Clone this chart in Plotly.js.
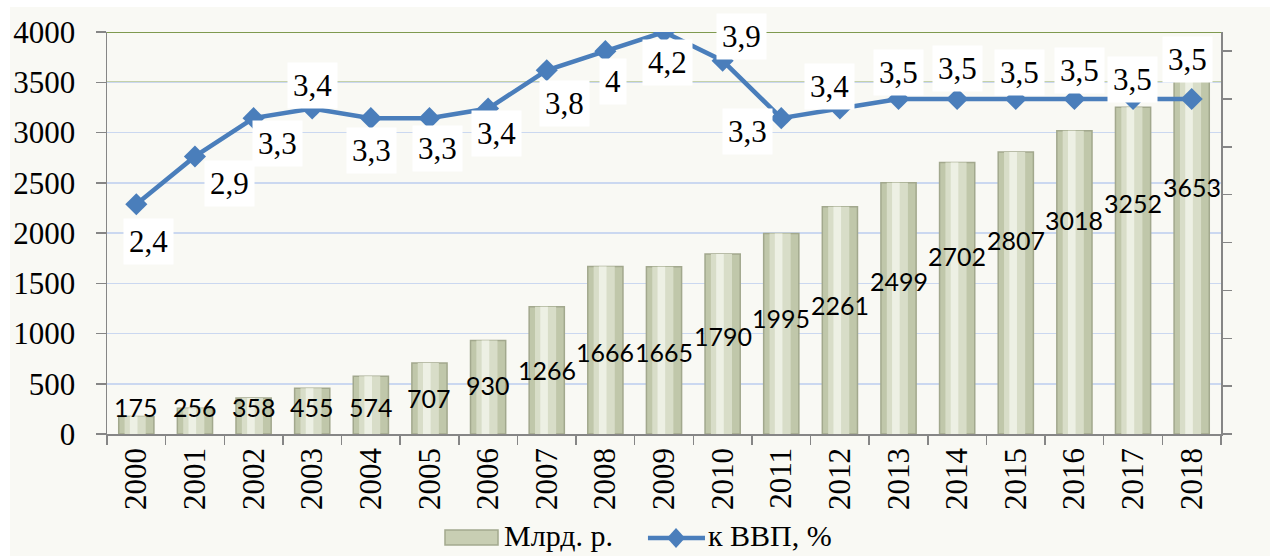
<!DOCTYPE html>
<html>
<head>
<meta charset="utf-8">
<script src="https://cdn.plot.ly/plotly-3.0.1.min.js"></script>
<style>html,body{margin:0;padding:0;background:#fff}#chart{width:1270px;height:556px}</style>
</head>
<body>
<div id="chart"></div>
<script>
// ---- data ----
const years = ['2000','2001','2002','2003','2004','2005','2006','2007','2008','2009','2010','2011','2012','2013','2014','2015','2016','2017','2018'];
const billionRub = [175,256,358,455,574,707,930,1266,1666,1665,1790,1995,2261,2499,2702,2807,3018,3252,3510];
const billionRubLabels = ['175','256','358','455','574','707','930','1266','1666','1665','1790','1995','2261','2499','2702','2807','3018','3252','3653'];
const gdpShare = [2.4,2.9,3.3,3.4,3.3,3.3,3.4,3.8,4,4.2,3.9,3.3,3.4,3.5,3.5,3.5,3.5,3.5,3.5];
const leftTicks = [0,500,1000,1500,2000,2500,3000,3500,4000];
const seriesNames = ['Млрд. р.', 'к ВВП, %'];

// ---- label placement (layout only) ----
const barLabelY = [269,269,269,269,269,358,488,637,816,816,975,1154,1284,1522,1771,1930,2129,2299,2458];
const lineLabelShift = [[12,-37],[35,-27],[24,-25],[0,23],[1,-32],[8,-30],[8,-25],[18,-33],[8,-30],[3,-30],[19,24],[-34,-13],[-10,22],[0,27],[0,31],[4,27],[5,29],[-1,20],[-4,40]];

const serif = "'Liberation Serif', 'Times New Roman', serif";
const sans = "Lato, 'Open Sans', sans-serif";
const blue = '#4a7ebb';

const traces = [
  {type:'bar', x:years, y:billionRub, name:seriesNames[0], width:0.6, showlegend:false,
   marker:{color:'#c0c7aa', line:{color:'#a2a88d', width:1.5}}, hoverinfo:'skip'},
  {type:'bar', x:years, y:billionRub, showlegend:false, width:0.36, offset:-0.2,
   marker:{color:'#d8ddc8', line:{width:0}}, hoverinfo:'skip'},
  {type:'bar', x:years, y:billionRub, showlegend:false, width:0.13, offset:-0.11,
   marker:{color:'#edf0e4', line:{width:0}}, hoverinfo:'skip'},
  {type:'scatter', mode:'lines+markers', x:years, y:gdpShare, yaxis:'y2', name:seriesNames[1], showlegend:false,
   line:{color:blue, width:4.5}, marker:{symbol:'diamond', size:17, color:blue}, hoverinfo:'skip'}
];

const annotations = [];
years.forEach((yr,i)=>{
  annotations.push({x:i, y:barLabelY[i], xref:'x', yref:'y', text:billionRubLabels[i], showarrow:false,
    font:{family:sans, size:25, color:'#000'}, yanchor:'middle', xanchor:'center'});
});
years.forEach((yr,i)=>{
  annotations.push({x:i, y:gdpShare[i], xref:'x', yref:'y2', text:String(gdpShare[i]).replace('.',','), showarrow:false,
    xshift:lineLabelShift[i][0], yshift:lineLabelShift[i][1], bgcolor:'#ffffff', borderpad:5,
    font:{family:serif, size:31, color:'#000'}, yanchor:'middle', xanchor:'center'});
});
// legend texts
annotations.push({xref:'paper', yref:'paper', x:0.3555, y:-0.2537, xanchor:'left', yanchor:'middle', showarrow:false,
  text:seriesNames[0], font:{family:serif, size:30, color:'#000'}, borderpad:0});
annotations.push({xref:'paper', yref:'paper', x:0.5385, y:-0.2537, xanchor:'left', yanchor:'middle', showarrow:false,
  text:seriesNames[1], font:{family:serif, size:30, color:'#000'}, borderpad:0});

const shapes = [
  {type:'rect', xref:'paper', yref:'paper', x0:-0.0871, x1:1.05, y0:-0.32, y1:1.0622, fillcolor:'#f9f9f4', line:{width:0}, layer:'below'},
  {type:'line', xref:'paper', yref:'y', x0:0, x1:1, y0:3500, y1:3500, line:{color:'#8fa95f', width:1.5}, layer:'between'},
  {type:'line', xref:'paper', yref:'y', x0:0, x1:1, y0:4000, y1:4000, line:{color:'#7f9a4f', width:2}, layer:'between'},
  // legend symbols
  {type:'rect', xref:'paper', yref:'paper', x0:0.3034, x1:0.351, y0:-0.2761, y1:-0.2388, fillcolor:'#c8ceb3', line:{color:'#a3a98e', width:1.5}},
  {type:'line', xref:'paper', yref:'paper', x0:0.4856, x1:0.5368, y0:-0.2587, y1:-0.2587, line:{color:blue, width:4.5}},
  {type:'path', xref:'paper', yref:'paper', path:'M 0.5108,-0.2338 L 0.5189,-0.2587 L 0.5108,-0.2836 L 0.5027,-0.2587 Z', fillcolor:blue, line:{width:0}}
];

const layout = {
  width:1270, height:556,
  margin:{l:107, r:49, t:32, b:122, autoexpand:false},
  paper_bgcolor:'#ffffff', plot_bgcolor:'rgba(0,0,0,0)',
  barmode:'overlay',
  showlegend:false,
  xaxis:{type:'category', range:[-0.5,18.5], autorange:false, automargin:false, tickangle:-90, ticks:'outside', tickson:'boundaries', ticklen:9, tickcolor:'#868686', tickwidth:1.5,
    showline:true, linecolor:'#868686', linewidth:1.5, showgrid:false,
    tickfont:{family:serif, size:31, color:'#000'}},
  yaxis:{range:[0,4000], autorange:false, automargin:false, tickvals:leftTicks, ticks:'outside', ticklen:10, tickcolor:'#868686', tickwidth:1.5,
    showline:true, linecolor:'#868686', linewidth:1.5, gridcolor:'#cbd8f0', gridwidth:1.5, zeroline:false,
    ticklabelstandoff:14, tickfont:{family:serif, size:31, color:'#000'}},
  yaxis2:{overlaying:'y', side:'right', range:[0,4.2], autorange:false, dtick:0.5, tick0:0, ticks:'outside', ticklen:9,
    tickcolor:'#868686', tickwidth:1.5, showline:true, linecolor:'#868686', linewidth:1.5,
    showgrid:false, zeroline:false, showticklabels:false},
  annotations:annotations,
  shapes:shapes
};

Plotly.newPlot('chart', traces, layout, {displayModeBar:false, staticPlot:true});
</script>
</body>
</html>
